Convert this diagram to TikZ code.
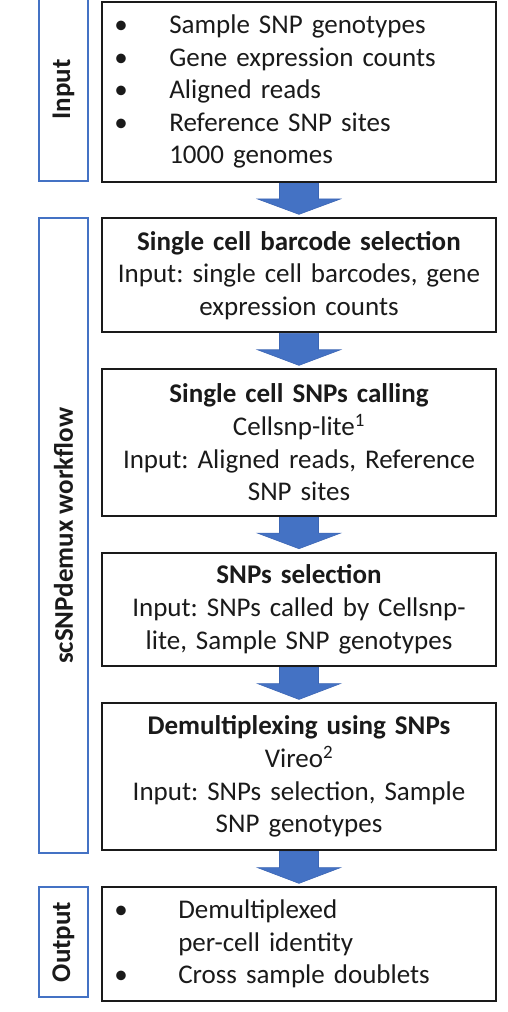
\documentclass[tikz,border=0pt]{standalone}
\usepackage{fontspec}
\setmainfont{Carlito}
\usetikzlibrary{calc,backgrounds}
\definecolor{obl}{HTML}{4472C4}
\definecolor{obld}{HTML}{3C66B4}
\definecolor{ink}{HTML}{1A1A1A}
\frenchspacing
\newcommand\blockarrow[2]{%
  \filldraw[barrow] ($(#1.south)+(-19.5,0)$) -- ($(#1.south)+(19.5,0)$)
    -- ($(#1.south)!0.47!(#2.north)+(19.5,0)$) -- ($(#1.south)!0.47!(#2.north)+(41.5,0)$)
    -- ($(#2.north)+(0,-3)$)
    -- ($(#1.south)!0.47!(#2.north)+(-41.5,0)$) -- ($(#1.south)!0.47!(#2.north)+(-19.5,0)$)
    -- cycle;}
\newcommand\bul[1]{\makebox[#1][l]{\textbullet}}
\begin{document}
\begin{tikzpicture}[x=1pt,y=-1pt,
  font=\fontsize{27}{32.6}\selectfont\frenchspacing,
  box/.style={draw=ink, line width=1.9pt, text=ink, inner xsep=12pt, inner ysep=0pt,
    text width=369.4pt},
  lbox/.style={draw=obl, line width=1.8pt, text=ink, inner sep=0pt, minimum width=48.4pt},
  barrow/.style={fill=obl, draw=obld, line width=0.6pt}]
\useasboundingbox (0,0) rectangle (507,1012);

\node[box, align=left, minimum height=180pt] (b1) at (299,91.7)
  {\bul{55pt}Sample SNP genotypes\\
   \bul{55pt}Gene expression counts\\
   \bul{55pt}Aligned reads\\
   \bul{55pt}Reference SNP sites\\
   \hspace*{55pt}1000 genomes};
\node[box, align=center, minimum height=114pt] (b2) at (299,275.3)
  {\textbf{Single cell barcode selection}\\Input: single cell barcodes, gene\\expression counts};
\node[box, align=center, minimum height=146.4pt] (b3) at (299,442.5)
  {\textbf{Single cell SNPs calling}\\Cellsnp-lite\textsuperscript{1}\\Input: Aligned reads, Reference\\SNP sites};
\node[box, align=center, minimum height=113.3pt] (b4) at (299,609.3)
  {\textbf{SNPs selection}\\Input: SNPs called by Cellsnp-\\lite, Sample SNP genotypes};
\node[box, align=center, minimum height=146.7pt] (b5) at (299,776.7)
  {\textbf{Demultiplexing using SNPs}\\Vireo\textsuperscript{2}\\Input: SNPs selection, Sample\\SNP genotypes};
\node[box, align=left, minimum height=113.4pt] (b6) at (299,944)
  {\bul{64pt}Demultiplexed\\
   \hspace*{64pt}per-cell identity\\
   \bul{64pt}Cross sample doublets};

\node[lbox, minimum height=183pt] (lin) at (63.5,89.5) {\rotatebox{90}{\bfseries Input}};
\node[lbox, minimum height=635pt] (lwf) at (63.5,535.8) {\rotatebox{90}{\bfseries scSNPdemux workflow}};
\node[lbox, minimum height=110.6pt] (lout) at (63.5,942) {\rotatebox{90}{\bfseries Output}};

\begin{scope}[on background layer]
\blockarrow{b1}{b2}
\blockarrow{b2}{b3}
\blockarrow{b3}{b4}
\blockarrow{b4}{b5}
\blockarrow{b5}{b6}
\end{scope}
\end{tikzpicture}
\end{document}
